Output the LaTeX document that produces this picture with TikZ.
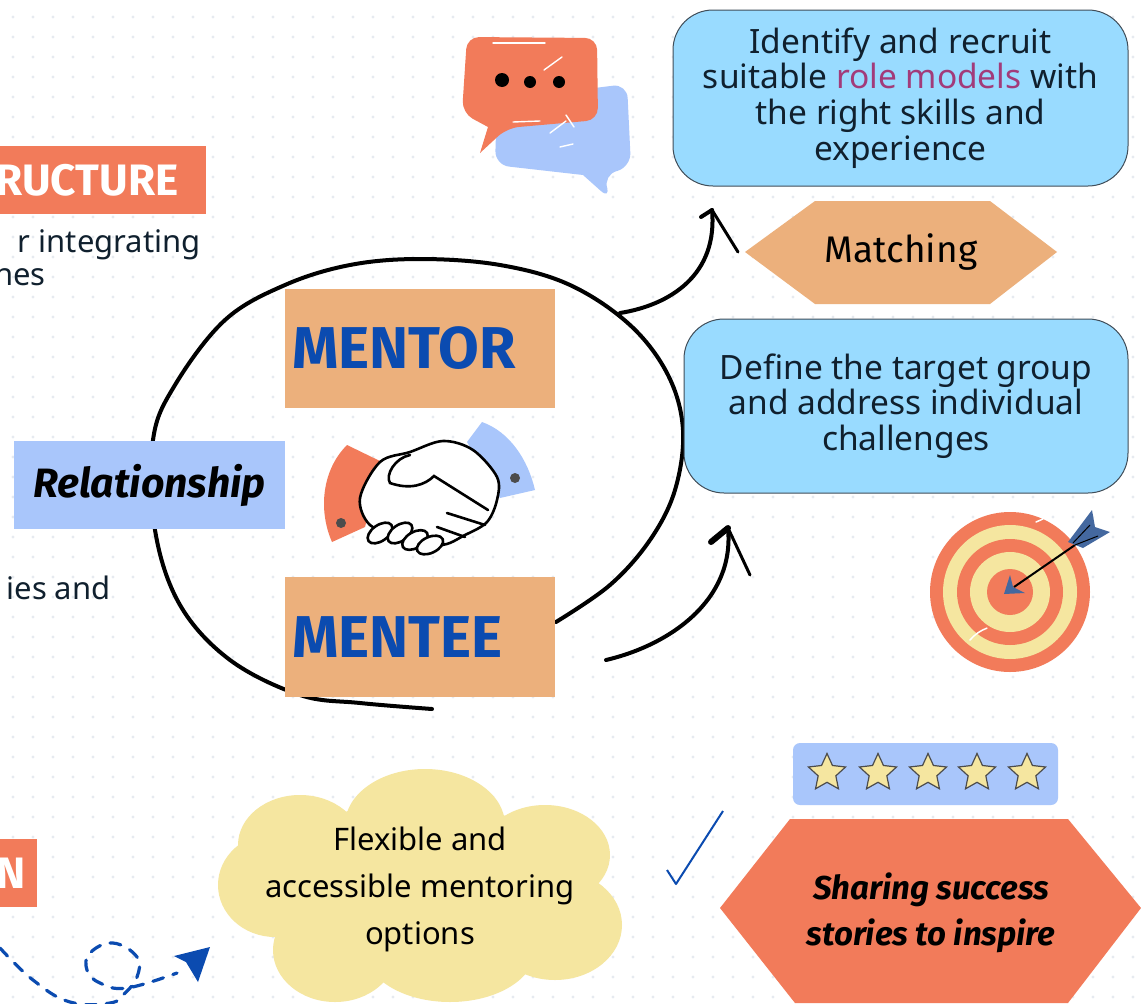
\documentclass[tikz,border=0pt]{standalone}
\usepackage{fontspec}
\setmainfont{Noto Sans}
\newfontfamily\boldfont{Fira Sans}
\usetikzlibrary{shapes.geometric}
\definecolor{coral}{HTML}{F27B5A}
\definecolor{tan}{HTML}{ECB07C}
\definecolor{sky}{HTML}{99DBFF}
\definecolor{peri}{HTML}{A9C6FB}
\definecolor{butter}{HTML}{F5E6A0}
\definecolor{deep}{HTML}{0B4BB0}
\definecolor{steel}{HTML}{44689F}
\definecolor{ink}{HTML}{10202E}
\definecolor{berry}{HTML}{A23B7A}
\definecolor{speck}{HTML}{E6EAF0}

\begin{document}
\begin{tikzpicture}[x=1pt, y=-1pt, thick,
    goal node/.style={rounded corners=40pt, draw=ink!80, line width=1pt, fill=sky, text=ink, align=center, inner sep=0pt, font=\fontsize{33.5}{35.7}\selectfont},
    role node/.style={fill=tan, inner sep=0pt, minimum width=270pt, text=deep, font=\boldfont\bfseries\fontsize{59}{60}\selectfont},
    title node/.style={fill=coral, inner sep=0pt, text=white, font=\boldfont\bfseries\fontsize{44}{44}\selectfont},
    side node/.style={inner sep=0pt, text=ink, font=\fontsize{31}{33}\selectfont},
    label node/.style={inner sep=0pt, text=black, align=center},
    star node/.style={star, star points=5, star point ratio=2.1, draw=black!70, line width=1.2pt, fill=butter, inner sep=0pt, minimum size=39pt},
    hand line/.style={line width=4pt, line cap=round, line join=round},
    shine/.style={white, line width=1.4pt, line cap=round},
    palm/.style={fill=white, draw=black, line width=2.6pt, line join=round}]
\useasboundingbox (0,0) rectangle (1141,1004);
\fill[white] (0,0) rectangle (1141,1004);
% dotted sheet
\foreach \i in {0,...,56}{
    \foreach \j in {0,...,49}{
        \fill[speck] (13+20*\i,17+20*\j) circle (1.7pt);}}

% ring round the pair
\draw[hand line, rounded corners=0pt] plot[smooth, tension=.6] coordinates {(432,709) (360,703) (300,695) (230,660) (180,605) (155,530) (153,440) (175,385) (225,320) (285,285) (350,265) (420,259) (500,265) (570,285) (630,325) (668,375) (683,430) (675,490) (650,540) (610,585) (556,622)};

\node[role node, minimum height=119pt, text width=270pt, align=left] (mentor) at (420,348.5) {\hspace*{7pt}MENTOR};
\node[role node, minimum height=120pt, text width=270pt, align=left] (mentee) at (420,637) {\hspace*{7pt}MENTEE};
\node[fill=peri, minimum width=271pt, minimum height=88pt, label node, font=\boldfont\bfseries\itshape\fontsize{41}{41}\selectfont] (relationship) at (149.5,485) {Relationship};

\node[goal node, minimum width=455pt, minimum height=176pt] (recruit) at (900.5,98) {Identify and recruit\\suitable \textcolor{berry}{\bfseries role models} with\\the right skills and\\experience};
\node[goal node, minimum width=444pt, minimum height=174pt] (target) at (906,406) {Define the target group\\and address individual\\challenges};

% matching and sharing plates
\fill[tan] (745,252) -- (815,201) -- (990,201) -- (1057,252) -- (990,304) -- (815,304) -- cycle;
\node[label node, font=\boldfont\fontsize{37}{37}\selectfont] (matching) at (901,252) {Matching};
\fill[coral] (720,908) -- (790,819) -- (1068,819) -- (1141,908) -- (1068,1003) -- (795,1003) -- cycle;
\node[label node, font=\boldfont\bfseries\itshape\fontsize{33}{46}\selectfont] (sharing) at (931,913) {Sharing success\\stories to inspire};

% cloud
\foreach \cx/\cy/\rx/\ry in {425/825/80/56, 300/845/62/50, 275/885/57/52, 335/950/62/52, 450/950/85/52, 555/925/67/55, 545/855/65/50, 420/890/150/90}{
    \fill[butter] (\cx,\cy) ellipse (\rx pt and \ry pt);}
\node[label node, font=\fontsize{31}{47}\selectfont\bfseries] (flexible) at (420,889) {Flexible and\\accessible mentoring\\options};

% clipped pieces of the sheet
\node[title node, minimum height=68pt, minimum width=226pt, text width=207pt, align=right] (structure) at (93,180) {RUCTURE\hspace*{18pt}};
\node[title node, minimum height=68pt, minimum width=50pt, text width=50pt, align=right] (plan) at (12,873) {N\hspace*{11pt}};
\node[side node, anchor=east] (integrating) at (201,245) {r integrating};
\node[side node, anchor=east] (lines) at (46,277) {nes};
\node[side node, anchor=east] (studies) at (111,588) {ies and};

% arrows out of the ring
\coordinate (upper start) at (620,313);
\coordinate (upper tip) at (712,210);
\coordinate (lower start) at (606,660);
\coordinate (lower tip) at (728,528);
\draw[hand line] (upper start) .. controls (670,305) and (718,275) .. (upper tip);
\draw[hand line] (upper tip) -- ++(-11,7);
\draw[line width=3pt, line cap=round] (upper tip) -- (738,252);
\draw[hand line] (lower start) .. controls (670,645) and (735,600) .. (lower tip);
\draw[hand line, line width=6pt] (lower tip) -- ++(-17,14);
\draw[line width=3pt, line cap=round] (lower tip) -- (750,575);

% speech bubbles
\fill[peri, rounded corners=14pt] (497,100) -- (627,84) -- (631,167) -- (603,175) -- (611,200) [sharp corners] -- (583,175) [rounded corners=14pt] -- (495,165) -- cycle;
\fill[coral, rounded corners=12pt] (467,37) -- (597,38) -- (598,120) -- (507,128) [sharp corners] -- (480,153) -- (488,127) [rounded corners=12pt] -- (462,113) -- cycle;
\foreach \s/\t/\r in {502/80/7, 530/82/6, 559/82/6}{
    \fill[black] (\s,\t) circle (\r pt);}
\draw[shine] (493,43) -- (545,43);
\draw[shine] (544,70) -- (562,57);
\draw[shine] (513,122) -- (540,121);
\draw[shine] (574,127) -- (566,115);
\draw[shine] (573,144) -- (560,147);
\draw[shine] (550,133) -- (566,121);

% handshake
\fill[coral] (347,445) -- (382,462) -- (365,527) -- (332,542) .. controls (318,510) and (322,470) .. cycle;
\fill[peri] (482,422) .. controls (510,432) and (528,460) .. (535,490) -- (500,498) -- (467,442) -- cycle;
\fill[black!70] (341,523) circle (5pt) (515,478) circle (5pt);
\draw[palm] plot[smooth cycle, tension=.55] coordinates {(360,498) (380,462) (410,452) (443,441) (473,450) (497,477) (497,500) (487,522) (465,535) (440,545) (400,535) (370,525)};
\foreach \s/\t/\r in {380/533/35, 400/533/35, 415/540/30, 430/545/25}{
    \draw[palm, rotate around={\r:(\s,\t)}] (\s,\t) ellipse (14pt and 8pt);}
\draw[black, line width=2.6pt, line cap=round] (410,455) .. controls (395,458) and (385,475) .. (390,483) .. controls (410,490) and (425,485) .. (434,476) -- (488,510);
\draw[black, line width=2.6pt, line cap=round] (447,513) -- (485,525);
\draw[black, line width=2.6pt, line cap=round] (437,527) -- (465,537);

% target
\foreach \r/\c in {80/coral, 67/butter, 53/coral, 40/butter, 23/coral}{
    \fill[\c] (1010,592) circle (\r pt);}
\draw[white, line width=1.5pt, line cap=round] (1036,522) arc (-70:-45:50pt) (970,640) arc (140:110:40pt);
\draw[black, line width=2pt] (1014,587) -- (1075,545);
\fill[steel] (1010,575) -- (1013,587) -- (1025,593) -- (1004,594) -- cycle;
\fill[steel] (1068,542) -- (1092,510) -- (1095,527) -- (1110,532) -- (1083,548) -- cycle;
\draw[black, line width=1pt] (1073,543) -- (1090,525) (1075,545) -- (1098,536);

% rating strip
\fill[peri, rounded corners=7pt] (793,743) rectangle (1058,805);
\foreach \s/\t in {one/827, two/878, three/928, four/977, five/1027}{
    \node[star node] (\s) at (\t,773) {};}

% tick
\draw[deep, line width=2pt, line join=round] (667,870) -- (676,884) -- (723,811);

% dashed flight path
\draw[deep, line width=3.2pt, dash pattern=on 11pt off 10pt, line cap=round] plot[smooth, tension=.7] coordinates {(0,948) (33,980) (70,1002) (110,1003) (125,993) (137,977) (137,957) (113,943) (90,953) (87,970) (100,983) (127,988) (177,973)};
\fill[deep] (210,947) -- (174,956) -- (186,962) -- (198,982) -- cycle;
\end{tikzpicture}
\end{document}
